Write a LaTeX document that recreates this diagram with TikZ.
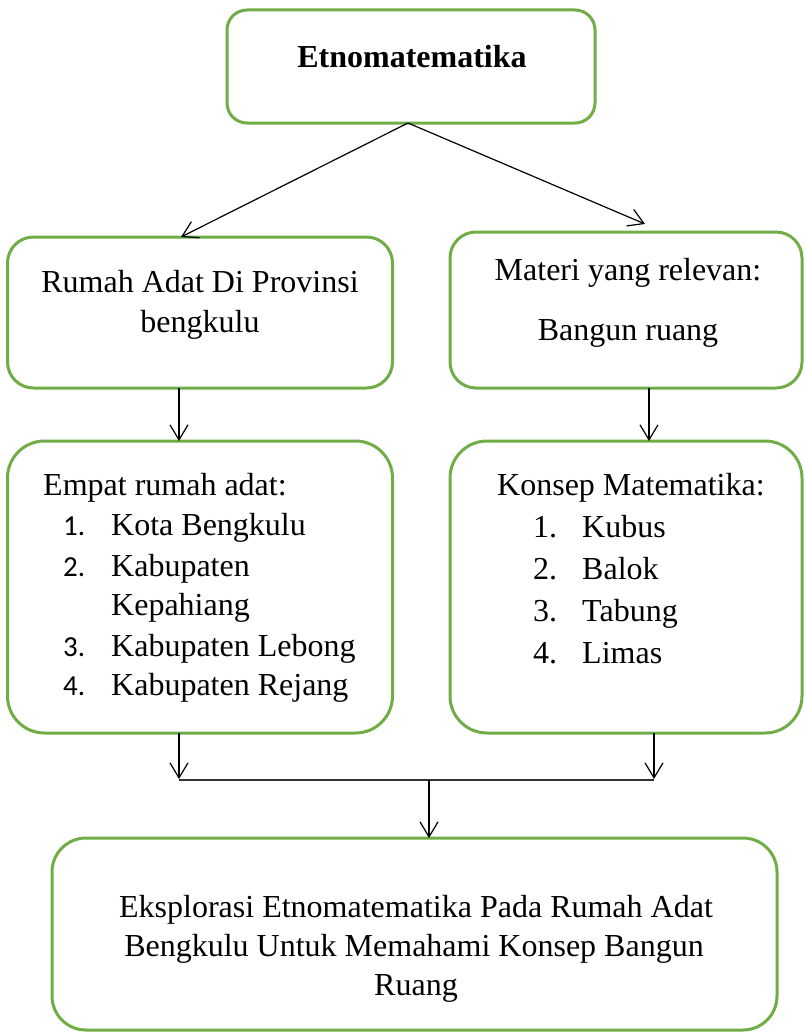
\documentclass[tikz,border=0pt]{standalone}
\usepackage{fontspec}
\setmainfont{Liberation Serif}
\newfontfamily\calib{Carlito}
\usetikzlibrary{arrows.meta}
\definecolor{boxgreen}{RGB}{112,173,71}
\begin{document}
\begin{tikzpicture}[x=1pt,y=-1pt,
  box/.style={draw=boxgreen, line width=3pt, rectangle, inner sep=0pt, outer sep=0pt},
  txt/.style={inner sep=0pt, anchor=base, font=\fontsize{32}{40}\selectfont},
  txtl/.style={txt, anchor=base west},
  num/.style={inner sep=0pt, anchor=base west, font=\calib\fontsize{29}{40}\selectfont},
  arr/.style={-{Straight Barb[length=15pt,width=18pt]}, line width=1.2pt, black},
  joinline/.style={line width=1.5pt, black!80}]
\useasboundingbox (0,0) rectangle (804,1033);

% boxes
\node[box, minimum width=368pt, minimum height=113pt, rounded corners=20pt] (top) at (411,66.5) {};
\node[box, minimum width=385pt, minimum height=151pt, rounded corners=26pt] (lb1) at (200,312.5) {};
\node[box, minimum width=352pt, minimum height=156pt, rounded corners=26pt] (rb1) at (626,310) {};
\node[box, minimum width=385pt, minimum height=292pt, rounded corners=37pt] (lb2) at (200,587) {};
\node[box, minimum width=352pt, minimum height=292pt, rounded corners=37pt] (rb2) at (626,587) {};
\node[box, minimum width=725pt, minimum height=192pt, rounded corners=34pt] (bot) at (414.5,934) {};

% texts
\node[txt, font=\bfseries\fontsize{32}{40}\selectfont] (t0) at (412,67) {Etnomatematika};

\node[txt] (t1a) at (200,292) {Rumah Adat Di Provinsi};
\node[txt] (t1b) at (200,332) {bengkulu};

\node[txt] (t2a) at (628,280) {Materi yang relevan:};
\node[txt] (t2b) at (628,340) {Bangun ruang};

\node[txtl] (t3) at (43,495) {Empat rumah adat:};
\node[num] (n31) at (63,535) {1.};
\node[txtl] (i31) at (111,535) {Kota Bengkulu};
\node[num] (n32) at (63,576) {2.};
\node[txtl] (i32) at (111,576) {Kabupaten};
\node[txtl] (i32b) at (111,615) {Kepahiang};
\node[num] (n33) at (63,656) {3.};
\node[txtl] (i33) at (111,656) {Kabupaten Lebong};
\node[num] (n34) at (63,695) {4.};
\node[txtl] (i34) at (111,695) {Kabupaten Rejang};

\node[txtl] (t4) at (497,495) {Konsep Matematika:};
\node[txtl] (n41) at (533,537) {1.};
\node[txtl] (i41) at (582,537) {Kubus};
\node[txtl] (n42) at (533,579) {2.};
\node[txtl] (i42) at (582,579) {Balok};
\node[txtl] (n43) at (533,621) {3.};
\node[txtl] (i43) at (582,621) {Tabung};
\node[txtl] (n44) at (533,663) {4.};
\node[txtl] (i44) at (582,663) {Limas};

\node[txt] (t5a) at (416,917) {Eksplorasi Etnomatematika Pada Rumah Adat};
\node[txt] (t5b) at (414,956) {Bengkulu Untuk Memahami Konsep Bangun};
\node[txt] (t5c) at (416,995) {Ruang};

% connectors
\coordinate (aL) at (181,237);
\coordinate (aR) at (645,224);
\draw[arr] ([xshift=-3pt]top.south) -- (aL);
\draw[arr] ([xshift=-3pt]top.south) -- (aR);

\draw[arr] ([xshift=-21pt]lb1.south) -- ([xshift=-21pt]lb2.north);
\draw[arr] ([xshift=23pt]rb1.south) -- ([xshift=23pt]rb2.north);

\coordinate (jL) at (179,780);
\coordinate (jR) at (654,780);
\coordinate (jC) at (429,780);
\draw[arr] ([xshift=-21pt]lb2.south) -- ([yshift=1pt]jL);
\draw[arr] ([xshift=28pt]rb2.south) -- ([yshift=1pt]jR);
\draw[joinline] (jL) -- (jR);
\draw[arr] (jC) -- (jC |- bot.north);
\end{tikzpicture}
\end{document}
